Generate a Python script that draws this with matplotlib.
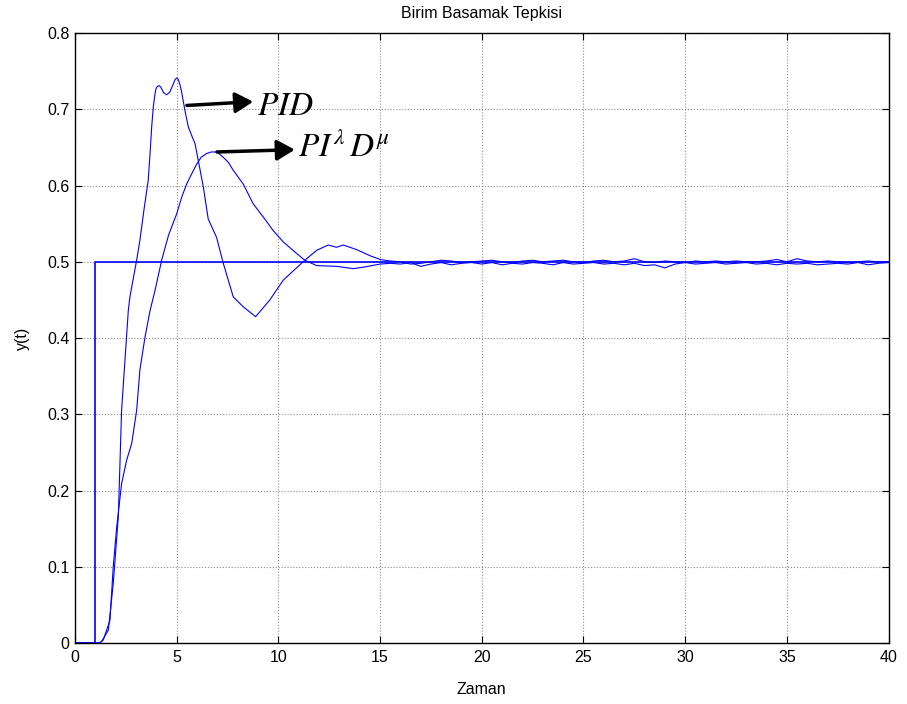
import matplotlib
matplotlib.use("Agg")
import matplotlib.pyplot as plt

plt.rcParams['font.family'] = ['Liberation Sans', 'DejaVu Sans']
plt.rcParams['mathtext.fontset'] = 'stix'

# Step reference
step_t = [0, 1.0, 1.0, 40]
step_y = [0, 0, 0.5, 0.5]

# PID response
pid_t = [0, 1.2, 1.31, 1.64, 1.88, 2.13, 2.29, 2.62, 2.7, 3.03, 3.19, 3.4, 3.6, 3.69, 3.77,
         3.85, 3.92, 3.98, 4.05, 4.14, 4.22, 4.35, 4.5, 4.65, 4.8, 4.92, 5.0, 5.08, 5.16,
         5.24, 5.4, 5.57, 5.73, 5.9, 6.06, 6.31, 6.55, 6.96, 7.29, 7.78,
         8.27, 8.88, 9.58, 10.24, 11.3, 11.88, 12.45, 12.86, 13.19, 13.84, 14.5, 15.0]
pid_y = [0, 0, 0.002, 0.017, 0.078, 0.166, 0.305, 0.436, 0.454, 0.502, 0.528, 0.570, 0.607,
         0.642, 0.677, 0.703, 0.718, 0.727, 0.730, 0.731, 0.729, 0.722, 0.719, 0.722, 0.731,
         0.739, 0.741, 0.739, 0.732, 0.723, 0.699, 0.677, 0.666, 0.655, 0.633, 0.598, 0.556,
         0.532, 0.498, 0.454, 0.441, 0.428, 0.450, 0.476, 0.502, 0.515, 0.522, 0.519, 0.522,
         0.516, 0.508, 0.503]

# Fractional-order PID response
fo_t = [0, 1.2, 1.39, 1.72, 1.88, 2.05, 2.29, 2.54, 2.79, 3.03, 3.19, 3.44, 3.69, 3.93,
        4.26, 4.6, 5.0, 5.25, 5.49, 5.75, 5.98, 6.2, 6.47, 6.7, 6.96, 7.12, 7.29, 7.55, 7.78,
        8.27, 8.76, 9.25, 9.74, 10.24, 10.89, 11.3, 11.88, 12.86, 13.68, 14.2, 15.0]
fo_y = [0, 0, 0.004, 0.03, 0.1, 0.152, 0.209, 0.24, 0.262, 0.305, 0.358, 0.401, 0.436, 0.462,
        0.502, 0.535, 0.563, 0.585, 0.602, 0.616, 0.628, 0.637, 0.642, 0.644, 0.644, 0.641,
        0.637, 0.630, 0.62, 0.602, 0.576, 0.559, 0.541, 0.526, 0.511, 0.502, 0.495, 0.494,
        0.491, 0.493, 0.497]

# Settled tails (15.5 .. 40, step 0.5), small visible ripples
tail_t = [15.5, 16.0, 16.5, 17.0, 17.5, 18.0, 18.5, 19.0, 19.5, 20.0, 20.5, 21.0, 21.5,
          22.0, 22.5, 23.0, 23.5, 24.0, 24.5, 25.0, 25.5, 26.0, 26.5, 27.0, 27.5, 28.0,
          28.5, 29.0, 29.5, 30.0, 30.5, 31.0, 31.5, 32.0, 32.5, 33.0, 33.5, 34.0, 34.5,
          35.0, 35.5, 36.0, 36.5, 37.0, 37.5, 38.0, 38.5, 39.0, 39.5, 40.0]
pid_tail = [0.501, 0.500, 0.497, 0.498, 0.500, 0.502, 0.501, 0.499, 0.500, 0.501, 0.502, 0.500,
            0.499, 0.501, 0.502, 0.500, 0.501, 0.502, 0.500, 0.499, 0.501, 0.502, 0.500, 0.501,
            0.504, 0.500, 0.499, 0.501, 0.500, 0.499, 0.501, 0.500, 0.501, 0.500, 0.501, 0.500,
            0.500, 0.501, 0.503, 0.500, 0.504, 0.501, 0.500, 0.501, 0.500, 0.499, 0.500, 0.501,
            0.500, 0.500]
fo_tail = [0.498, 0.497, 0.499, 0.494, 0.497, 0.499, 0.496, 0.498, 0.499, 0.497, 0.499, 0.496,
           0.498, 0.497, 0.499, 0.498, 0.496, 0.499, 0.497, 0.498, 0.499, 0.497, 0.498, 0.496,
           0.498, 0.495, 0.496, 0.492, 0.497, 0.499, 0.497, 0.498, 0.499, 0.497, 0.498, 0.499,
           0.497, 0.498, 0.496, 0.498, 0.497, 0.498, 0.496, 0.497, 0.498, 0.497, 0.499, 0.496,
           0.498, 0.499]

xticks = [0, 5, 10, 15, 20, 25, 30, 35, 40]
yticks = [0, 0.1, 0.2, 0.3, 0.4, 0.5, 0.6, 0.7, 0.8]
ytick_labels = ['0', '0.1', '0.2', '0.3', '0.4', '0.5', '0.6', '0.7', '0.8']

fig = plt.figure(figsize=(9.07, 7.04), dpi=100)
ax = fig.add_axes([0.0827, 0.0866, 0.897, 0.8665])

blue = '#0000FF'
ax.plot(step_t, step_y, color=blue, lw=1.2)
ax.plot(pid_t + tail_t, pid_y + pid_tail, color=blue, lw=0.8)
ax.plot(fo_t + tail_t, fo_y + fo_tail, color=blue, lw=0.8)

ax.set_xlim(0, 40)
ax.set_ylim(0, 0.8)
ax.set_xticks(xticks)
ax.set_xticklabels([str(v) for v in xticks])
ax.set_yticks(yticks)
ax.set_yticklabels(ytick_labels)
ax.tick_params(direction='in', top=True, right=True, length=5, width=0.8,
               labelsize=11.5)
ax.tick_params(axis='x', pad=5)
ax.tick_params(axis='y', pad=4)
ax.grid(True, color='#8c8c8c', linestyle=':', linewidth=0.8)
for s in ax.spines.values():
    s.set_linewidth(1.0)

ax.set_title('Birim Basamak Tepkisi', fontsize=11.5, pad=11)
ax.set_xlabel('Zaman', fontsize=11.5, labelpad=12)
ax.set_ylabel('y(t)', fontsize=11.5, labelpad=12)

arrow = dict(arrowstyle='-|>,head_length=0.4,head_width=0.23', lw=2.5,
             mutation_scale=27, color='black', shrinkA=0, shrinkB=0)
ax.annotate('', xy=(8.76, 0.710), xytext=(5.5, 0.705), arrowprops=arrow)
ax.annotate('', xy=(10.81, 0.647), xytext=(6.98, 0.644), arrowprops=arrow)
ax.text(8.95, 0.703, r'$PID$', fontsize=24, va='center', ha='left')
ax.text(10.95, 0.649, r'$PI^{\lambda}\,D^{\mu}$', fontsize=24, va='center', ha='left')

fig.savefig('out.png', dpi=100)
